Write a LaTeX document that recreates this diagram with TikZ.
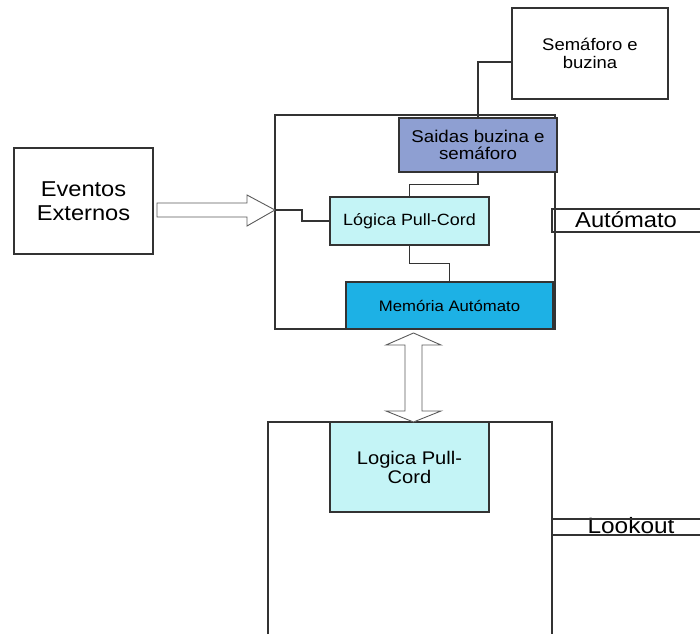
\documentclass[tikz,border=0pt]{standalone}
\usepackage{fontspec}
\newfontfamily\diagfont[FakeStretch=1.1]{Liberation Sans}
\definecolor{linegray}{HTML}{333333}
\definecolor{saidafill}{HTML}{8E9FD2}
\definecolor{logicfill}{HTML}{C4F4F6}
\definecolor{memfill}{HTML}{1DB1E5}
\tikzset{
  box/.style={draw=linegray, line width=1.1pt, inner sep=0pt, align=center, text=black},
  wire/.style={draw=linegray, line width=1.1pt},
  blockarrow/.style={draw=linegray!80, line width=0.9pt, fill=white, line join=miter},
  fs/.style 2 args={font={\diagfont\fontsize{#1}{#2}\selectfont}}
}
\begin{document}
\begin{tikzpicture}[x=1pt, y=-1pt]
\useasboundingbox (0,0) rectangle (700,634);

% automaton frame
\node[box, minimum width=280pt, minimum height=214pt] (auto) at (415,222) {};
\node[box, fs={16.8}{18}, minimum width=156pt, minimum height=91pt] (sem) at (590,53.5) {Semáforo e\\buzina};
\node[box, fs={21.5}{24}, minimum width=139pt, minimum height=106pt] (evt) at (83.5,201) {Eventos\\Externos};

\node[box, fill=saidafill, fs={17}{17.5}, minimum width=158pt, minimum height=54pt] (said) at (478,145) {Saidas buzina e\\semáforo};
\node[box, fill=logicfill, fs={16.3}{17}, minimum width=159pt, minimum height=48pt] (logic) at (409.5,221) {Lógica Pull-Cord};
\node[box, fill=memfill, fs={15.2}{16}, minimum width=207pt, minimum height=47pt] (mem) at (449.5,305.5) {Memória Autómato};

% automaton label tab
\node[fs={21.6}{22}, inner sep=0pt] (autlab) at (626,219.5) {Autómato};
\coordinate (autA) at (700,209);
\coordinate (autB) at (552,209);
\coordinate (autC) at (552,232);
\coordinate (autD) at (700,232);
\draw[wire] (autA) -- (autB) -- (autC) -- (autD);

% lookout frame, open at the bottom
\coordinate (lkA) at (268,634);
\coordinate (lkB) at (268,422);
\coordinate (lkC) at (552,422);
\coordinate (lkD) at (552,634);
\draw[wire] (lkA) -- (lkB) -- (lkC) -- (lkD);
\node[box, fill=logicfill, fs={18.3}{19}, minimum width=159pt, minimum height=90pt] (logic2) at (409.5,467) {Logica Pull-\\Cord};

\node[fs={22.2}{22}, inner sep=0pt] (lklab) at (631,526) {Lookout};
\coordinate (lkE) at (552,519);
\coordinate (lkF) at (700,519);
\coordinate (lkG) at (552,535);
\coordinate (lkH) at (700,535);
\draw[wire] (lkE) -- (lkF);
\draw[wire] (lkG) -- (lkH);

% wiring inside the automaton
\draw[wire] (said.north) |- ([yshift=-8.5pt]sem.west);
\draw[wire] (said.south) -- ++(0,12) -| (logic.north);
\draw[wire] (logic.south) -- ++(0,18) -| (mem.north);

% events arrow into the automaton
\coordinate (evtip) at (275,210);
\draw[blockarrow] (157,203) -- (247,203) -- (247,195) -- (evtip) -- (247,226) -- (247,217) -- (157,217) -- cycle;
\draw[wire] (evtip) -- ++(27,0) |- (logic.west);

% two-way arrow between the memory and the lookout logic
\draw[blockarrow] (413.5,333) -- (441,345) -- (422,345) -- (422,411) -- (441,411) -- (413.5,422)
  -- (386,411) -- (405,411) -- (405,345) -- (386,345) -- cycle;
\end{tikzpicture}
\end{document}
